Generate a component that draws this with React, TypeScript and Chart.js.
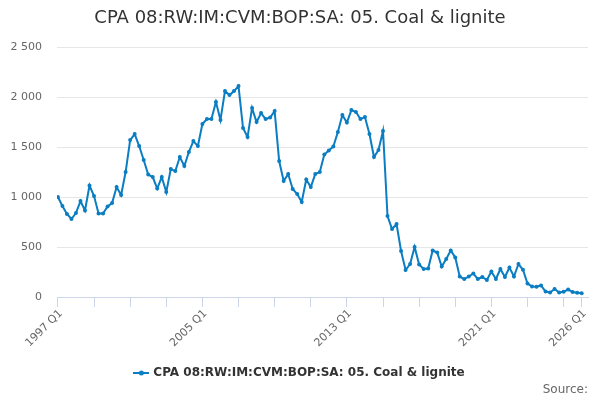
import React, { useEffect, useRef } from "react";
import { Chart, registerables } from "chart.js";

Chart.register(...registerables);

const SERIES_LABEL = "CPA 08:RW:IM:CVM:BOP:SA: 05. Coal & lignite";
const SOURCE_TEXT = "Source:";
const LINE_COLOR = "#0b7dc2";
const GRID_COLOR = "#e6e6e6";
const AXIS_COLOR = "#ccd6eb";
const LABEL_COLOR = "#666666";
const TITLE_COLOR = "#333333";
const FONT = "'DejaVu Sans', sans-serif";

const FIRST_YEAR = 1997;
const LAST_YEAR = 2026;

// quarterly values
const VALUES_1997_2004 = [
  1000, 910, 830, 780, 840, 960, 865, 1115, 1010, 835, 835, 905, 940, 1100,
  1020, 1250, 1570, 1630, 1510, 1370, 1225, 1200, 1085, 1200, 1050, 1280,
  1260, 1400, 1310, 1450, 1560, 1510,
];
const VALUES_2005_2012 = [
  1730, 1780, 1780, 1950, 1770, 2060, 2020, 2060, 2110, 1690, 1600, 1890,
  1750, 1840, 1780, 1795, 1860, 1360, 1160, 1230, 1080, 1030, 950, 1175, 1100,
  1230, 1250, 1425, 1465, 1505, 1650, 1820,
];
const VALUES_2013_2020 = [
  1745, 1870, 1850, 1780, 1800, 1630, 1400, 1470, 1660, 810, 680, 730, 460,
  270, 330, 500, 325, 280, 285, 465, 445, 305, 380, 465, 395, 205, 180, 205,
  235, 180, 200, 170,
];
const VALUES_2021_2026 = [
  255, 180, 280, 200, 295, 205, 330, 272, 135, 105, 103, 115, 55, 45, 80, 45,
  52, 75, 50, 42, 37,
];

const VALUES = [
  ...VALUES_1997_2004,
  ...VALUES_2005_2012,
  ...VALUES_2013_2020,
  ...VALUES_2021_2026,
];

const QUARTERS: string[] = [];
for (let y = FIRST_YEAR; y <= LAST_YEAR; y++) {
  for (let q = 1; q <= 4; q++) {
    if (QUARTERS.length < VALUES.length) QUARTERS.push(`${y} Q${q}`);
  }
}

const LAST = VALUES.length - 1;
// tick marks every 2 years, labels every 8 years plus the last quarter
const TICK_EVERY = 8;
const LABEL_EVERY = 32;
const TICK_INDEXES: number[] = [];
for (let i = 0; i < LAST; i += TICK_EVERY) TICK_INDEXES.push(i);
TICK_INDEXES.push(LAST);

const Y_MAX = 2500;
const Y_STEP = 500;

function formatThousands(n: number) {
  if (n < 1000) return String(n);
  return `${Math.floor(n / 1000)} ${String(n % 1000).padStart(3, "0")}`;
}

function makeLegendMarker() {
  const c = document.createElement("canvas");
  c.width = 16;
  c.height = 8;
  const g = c.getContext("2d")!;
  g.strokeStyle = LINE_COLOR;
  g.lineWidth = 2;
  g.beginPath();
  g.moveTo(0, 4);
  g.lineTo(16, 4);
  g.stroke();
  g.fillStyle = LINE_COLOR;
  g.beginPath();
  g.arc(8, 4, 2.5, 0, Math.PI * 2);
  g.fill();
  return c;
}

// small "Source:" credit in the bottom right corner
const sourcePlugin = {
  id: "sourceCredit",
  afterDraw(chart: Chart) {
    const { ctx, width } = chart;
    ctx.save();
    ctx.font = `12px ${FONT}`;
    ctx.fillStyle = LABEL_COLOR;
    ctx.textAlign = "right";
    ctx.textBaseline = "middle";
    ctx.fillText(SOURCE_TEXT, width - 12, 390);
    ctx.restore();
  },
};

export default function App() {
  const canvasRef = useRef<HTMLCanvasElement | null>(null);

  useEffect(() => {
    const el = canvasRef.current;
    if (!el) return;
    Chart.defaults.font.family = FONT;
    const marker = makeLegendMarker();
    const points = VALUES.map((v, i) => ({ x: i, y: v }));

    const chart = new Chart(el, {
      type: "line",
      data: {
        datasets: [
          {
            label: SERIES_LABEL,
            data: points,
            borderColor: LINE_COLOR,
            backgroundColor: LINE_COLOR,
            borderWidth: 2,
            pointRadius: 2,
            pointBorderWidth: 0,
            pointBackgroundColor: LINE_COLOR,
            tension: 0,
          },
        ],
      },
      options: {
        responsive: false,
        animation: false,
        layout: { padding: { left: 0, right: 0, top: 0, bottom: 11 } },
        plugins: {
          title: {
            display: true,
            text: SERIES_LABEL,
            color: TITLE_COLOR,
            font: { size: 18, weight: "normal" },
            padding: { top: 8, bottom: 17.5 },
          },
          legend: {
            position: "bottom",
            labels: {
              usePointStyle: true,
              boxWidth: 16,
              boxHeight: 8,
              color: TITLE_COLOR,
              font: { size: 12, weight: "bold" },
              padding: 4,
              generateLabels: () => [
                {
                  text: SERIES_LABEL,
                  pointStyle: marker,
                  fillStyle: LINE_COLOR,
                  strokeStyle: LINE_COLOR,
                  lineWidth: 0,
                  hidden: false,
                  datasetIndex: 0,
                  fontColor: TITLE_COLOR,
                },
              ],
            },
          },
          tooltip: { enabled: false },
        },
        scales: {
          x: {
            type: "linear",
            min: -0.2,
            max: LAST + 1.4,
            border: { display: true, color: AXIS_COLOR, width: 1 },
            grid: {
              drawOnChartArea: false,
              drawTicks: true,
              tickLength: 10,
              lineWidth: 1,
              color: AXIS_COLOR,
            },
            afterBuildTicks: (s: { ticks: { value: number }[] }) => {
              s.ticks = TICK_INDEXES.map((v) => ({ value: v }));
            },
            ticks: {
              autoSkip: false,
              minRotation: 45,
              maxRotation: 45,
              color: LABEL_COLOR,
              font: { size: 11 },
              padding: 0,
              labelOffset: 3,
              callback: (v: number | string) => {
                const i = Number(v);
                return i % LABEL_EVERY === 0 || i === LAST ? QUARTERS[i] : "";
              },
            },
            afterFit: (s: { height: number }) => {
              s.height = 66;
            },
          },
          y: {
            min: 0,
            max: Y_MAX,
            border: { display: false },
            grid: { color: GRID_COLOR, drawTicks: false, lineWidth: 1 },
            ticks: {
              stepSize: Y_STEP,
              color: LABEL_COLOR,
              font: { size: 11 },
              padding: 15,
              callback: (v: number | string) => formatThousands(Number(v)),
            },
            afterFit: (s: { width: number }) => {
              s.width = 57;
            },
          },
          yRight: {
            type: "linear",
            position: "right",
            display: true,
            border: { display: false },
            grid: { display: false },
            ticks: { display: false },
            afterFit: (s: { width: number }) => {
              s.width = 12;
            },
          },
        },
      },
      plugins: [sourcePlugin],
    });

    return () => {
      chart.destroy();
    };
  }, []);

  return (
    <div
      style={{
        position: "fixed",
        left: 0,
        top: 0,
        width: 600,
        height: 400,
        background: "#fff",
      }}
    >
      <canvas ref={canvasRef} width={600} height={400} />
    </div>
  );
}
